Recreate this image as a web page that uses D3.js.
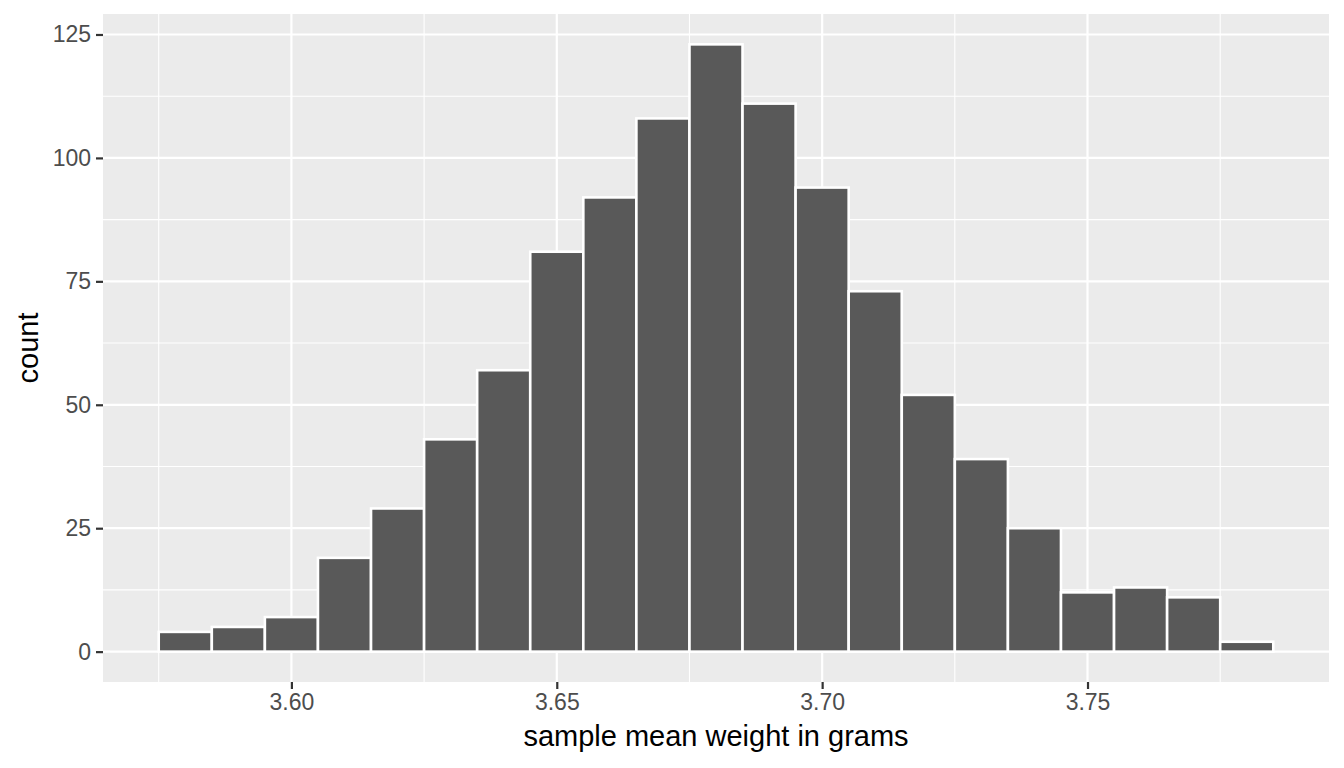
<!DOCTYPE html>
<html>
<head>
<meta charset="utf-8">
<script src="https://cdn.jsdelivr.net/npm/d3@7"></script>
<style>
  html, body { margin: 0; padding: 0; background: #ffffff; }
  svg { display: block; }
  text { font-family: "Liberation Sans", Arial, Helvetica, sans-serif; }
</style>
</head>
<body>
<svg id="chart" width="1344" height="768"></svg>
<script>
// ---- data ----
const binStarts = [3.575, 3.585, 3.595, 3.605, 3.615, 3.625, 3.635, 3.645, 3.655, 3.665, 3.675,
                   3.685, 3.695, 3.705, 3.715, 3.725, 3.735, 3.745, 3.755, 3.765, 3.775];
const binWidth = 0.01;
const counts = [4, 5, 7, 19, 29, 43, 57, 81, 92, 108, 123, 111, 94, 73, 52, 39, 25, 12, 13, 11, 2];
const xTicks = [3.60, 3.65, 3.70, 3.75];
const xMinorTicks = [3.575, 3.625, 3.675, 3.725, 3.775];
const yTicks = [0, 25, 50, 75, 100, 125];
const yMinorTicks = [12.5, 37.5, 62.5, 87.5, 112.5];
const xTitle = "sample mean weight in grams";
const yTitle = "count";

// ---- layout ----
const svg = d3.select("#chart");
const panel = { left: 103, right: 1329, top: 14, bottom: 682 };

const xMin = binStarts[0], xMax = binStarts[binStarts.length - 1] + binWidth;
const xPad = (xMax - xMin) * 0.05;
const x = d3.scaleLinear().domain([xMin - xPad, xMax + xPad]).range([panel.left, panel.right]);
const yMaxV = d3.max(counts);
const yPad = yMaxV * 0.05;
const y = d3.scaleLinear().domain([-yPad, yMaxV + yPad]).range([panel.bottom, panel.top]);

// panel background
svg.append("rect")
  .attr("x", panel.left).attr("y", panel.top)
  .attr("width", panel.right - panel.left).attr("height", panel.bottom - panel.top)
  .attr("fill", "#EBEBEB");

const grid = svg.append("g");
// minor grid
grid.selectAll(".xminor").data(xMinorTicks).enter().append("line")
  .attr("x1", d => x(d)).attr("x2", d => x(d))
  .attr("y1", panel.top).attr("y2", panel.bottom)
  .attr("stroke", "#ffffff").attr("stroke-width", 1.1);
grid.selectAll(".yminor").data(yMinorTicks).enter().append("line")
  .attr("y1", d => y(d)).attr("y2", d => y(d))
  .attr("x1", panel.left).attr("x2", panel.right)
  .attr("stroke", "#ffffff").attr("stroke-width", 1.1);
// major grid
grid.selectAll(".xmajor").data(xTicks).enter().append("line")
  .attr("x1", d => x(d)).attr("x2", d => x(d))
  .attr("y1", panel.top).attr("y2", panel.bottom)
  .attr("stroke", "#ffffff").attr("stroke-width", 2.2);
grid.selectAll(".ymajor").data(yTicks).enter().append("line")
  .attr("y1", d => y(d)).attr("y2", d => y(d))
  .attr("x1", panel.left).attr("x2", panel.right)
  .attr("stroke", "#ffffff").attr("stroke-width", 2.2);

// bars
svg.append("g").selectAll("rect").data(counts).enter().append("rect")
  .attr("x", (d, i) => x(binStarts[i]))
  .attr("width", (d, i) => x(binStarts[i] + binWidth) - x(binStarts[i]))
  .attr("y", d => y(d))
  .attr("height", d => y(0) - y(d))
  .attr("fill", "#595959")
  .attr("stroke", "#ffffff")
  .attr("stroke-width", 2.6);

// axes
const xAxis = d3.axisBottom(x).tickValues(xTicks).tickFormat(d3.format(".2f"))
  .tickSize(7).tickPadding(5);
const gx = svg.append("g").attr("transform", `translate(0,${panel.bottom})`).call(xAxis);
gx.select(".domain").remove();
gx.selectAll(".tick line").attr("stroke", "#333333").attr("stroke-width", 2.2);
gx.selectAll(".tick text").attr("fill", "#4D4D4D").attr("font-size", "23px")
  .attr("font-family", "Liberation Sans, Arial, sans-serif");

const yAxis = d3.axisLeft(y).tickValues(yTicks).tickFormat(d3.format("d"))
  .tickSize(7).tickPadding(5);
const gy = svg.append("g").attr("transform", `translate(${panel.left},0)`).call(yAxis);
gy.select(".domain").remove();
gy.selectAll(".tick line").attr("stroke", "#333333").attr("stroke-width", 2.2);
gy.selectAll(".tick text").attr("fill", "#4D4D4D").attr("font-size", "23px")
  .attr("font-family", "Liberation Sans, Arial, sans-serif");

// titles
svg.append("text")
  .attr("x", (panel.left + panel.right) / 2)
  .attr("y", 746)
  .attr("text-anchor", "middle")
  .attr("font-size", "29px")
  .attr("fill", "#000000")
  .text(xTitle);

svg.append("text")
  .attr("transform", `translate(38,${(panel.top + panel.bottom) / 2}) rotate(-90)`)
  .attr("text-anchor", "middle")
  .attr("font-size", "29px")
  .attr("fill", "#000000")
  .text(yTitle);
</script>
</body>
</html>
